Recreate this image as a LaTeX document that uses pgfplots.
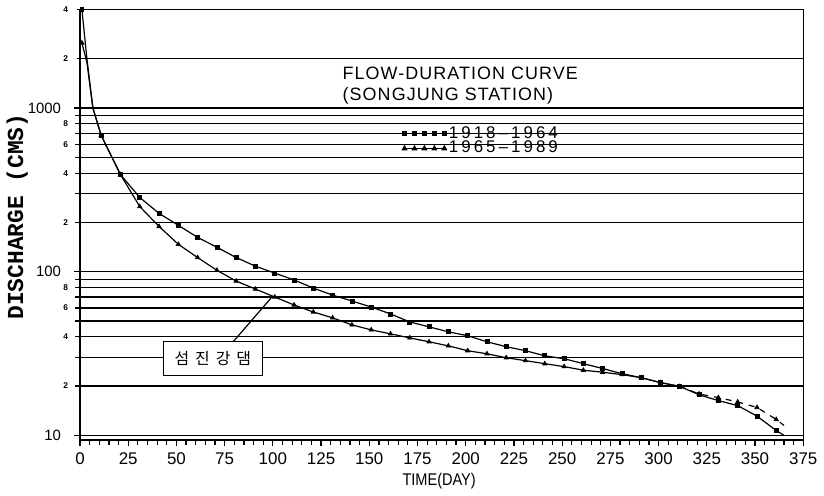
\documentclass[border=0pt]{standalone}
\usepackage{fontspec}
\setmainfont{Liberation Sans}
\setmonofont{Liberation Mono}
\newfontfamily\kr{Noto Sans CJK KR}
\newfontfamily\legfont[LetterSpace=18]{Liberation Sans}
\newfontfamily\titlefont[LetterSpace=6]{Liberation Sans}
\usepackage{pgfplots}
\usepackage{pgfplotstable}
\pgfplotsset{compat=1.18}
\usetikzlibrary{calc}
\pgfplotsset{fivemarks/.style={legend image code/.code={\draw[mark repeat=1,##1] plot coordinates {(0pt,0pt)(5pt,0pt)(10pt,0pt)(15pt,0pt)(20pt,0pt)}; \path (0pt,0pt) (21pt,0pt);}}}

% 1918-1964 (squares)
\pgfplotstableread{
day q
1 4000
3.6 2000
6.7 1000
11 680
21 392
31 284
41 227
51 192
61 162
71 141
81 122
91 108
101 98
111 89
121 79.4
131 71.9
141 66.2
151 60.8
161 55.2
171 49.3
181 46.0
191 42.9
201 40.6
211 37.3
221 34.8
231 32.9
241 30.6
251 29.4
261 27.4
271 25.6
281 23.8
291 22.5
301 21.0
311 19.9
321 17.7
331 16.3
341 15.2
351 13.1
361 10.7
365 10.0
}\dataA

% 1965-1989 (triangles)
\pgfplotstableread{
day q
1 2500
3.6 1900
6.7 1000
11 680
21 392
31 250
41 189
51 147
61 122
71 102
81 87.6
91 78.3
101 70.0
111 62.6
121 56.7
131 52.2
141 47.3
151 44.1
161 41.7
171 39.4
181 37.3
191 35.2
201 32.9
211 31.5
221 29.8
231 28.6
241 27.4
251 26.3
261 25.0
271 24.3
281 23.5
291 22.5
301 21.0
311 19.9
321 17.9
331 17.0
341 16.0
351 14.8
361 12.5
365 11.5
}\dataB

\begin{document}
\begin{tikzpicture}
\begin{axis}[
  name=ax,
  scale only axis, width=363.5pt, height=216.4pt,
  ymode=log, xmin=0, xmax=375, ymin=9.35, ymax=4000,
  xtick={0,25,...,375}, minor x tick num=4,
  ytick={10,100,1000}, yticklabels={10,100,1000},
  extra y ticks={20,40,60,80,200,400,600,800,2000,4000},
  extra y tick labels={2,4,6,8,2,4,6,8,2,4},
  extra y tick style={grid=major, major tick length=1.5pt,
    yticklabel style={font=\fontsize{4.2}{4.2}\selectfont\bfseries, xshift=2pt}},
  ymajorgrids, yminorgrids,
  major grid style={black, line width=0.6pt},
  minor grid style={black, line width=0.6pt},
  tick align=outside, tick pos=left,
  major tick length=3pt, minor tick length=2.5pt,
  y tick style={black, line width=0.6pt},
  x tick style={black, line width=0.6pt},
  minor y tick style={line width=0.6pt},
  axis line style={line width=0.7pt},
  /pgf/number format/assume math mode=true,
  xticklabel style={font=\fontsize{8.5}{10}\selectfont},
  yticklabel style={font=\fontsize{7.5}{9}\selectfont, xshift=-3pt},
  xlabel={\scalebox{0.86}[1]{TIME(DAY)}},
  xlabel style={font=\fontsize{8.5}{10}\selectfont, at={(rel axis cs:0.4966,0)}, anchor=north, yshift=-13pt},
  ylabel={DISCHARGE (CMS)},
  ylabel style={font=\ttfamily\bfseries\fontsize{11.5}{12}\selectfont, at={(rel axis cs:0,0.519)}, anchor=center, yshift=31.5pt},
  legend style={at={(axis cs:167,800)}, anchor=north west, draw=none, fill=none,
    font=\legfont\fontsize{8.5}{9}\selectfont, row sep=-2pt, inner sep=0pt, nodes={inner sep=1pt}},
  legend cell align=left,
  clip=false,
]
\addlegendimage{black, line width=0.6pt, mark=square*, mark size=1pt, fivemarks}
\addlegendentry{1918–1964}
\addlegendimage{black, line width=0.6pt, mark=triangle*, mark size=1.2pt, fivemarks}
\addlegendentry{1965–1989}

\addplot[black, line width=0.6pt, no marks, forget plot] table[x=day,y=q] {\dataA};
\addplot[black, only marks, mark=square*, mark size=1pt, forget plot,
  mark indices={1,4,5,6,7,8,9,10,11,12,13,14,15,16,17,18,19,20,21,22,23,24,25,26,27,28,29,30,31,32,33,34,35,36,37,38,39}]
  table[x=day,y=q] {\dataA};

\addplot[black, line width=0.6pt, no marks, forget plot, restrict x to domain=0:311] table[x=day,y=q] {\dataB};
\addplot[black, line width=0.6pt, no marks, forget plot, dashed, restrict x to domain=311:366] table[x=day,y=q] {\dataB};
\addplot[black, only marks, mark=triangle*, mark size=1.2pt, forget plot,
  mark indices={1,4,5,6,7,8,9,10,11,12,13,14,15,16,17,18,19,20,21,22,23,24,25,26,27,28,29,30,31,32,33,34,35,36,37,38,39}]
  table[x=day,y=q] {\dataB};

\node[anchor=north west, align=left, inner sep=0pt, font=\titlefont\fontsize{9}{10.5}\selectfont]
  at (axis cs:136,1800) {FLOW-DURATION CURVE\\(SONGJUNG STATION)};

\draw[black, line width=0.6pt] (axis cs:79.4,37.3) -- (axis cs:99.5,70);
\node[draw=black, fill=white, line width=0.6pt, minimum width=49.5pt, minimum height=17pt, inner sep=0pt,
  font=\kr\fontsize{8}{9}\selectfont] at (axis cs:68.9,29.4) {섬\hspace{3pt}진\hspace{3pt}강\hspace{3pt}댐};
\end{axis}
\path[use as bounding box] ($(ax.south west)+(-39.5pt,-23.1pt)$) rectangle ($(ax.north east)+(9pt,4.5pt)$);
\end{tikzpicture}
\end{document}
